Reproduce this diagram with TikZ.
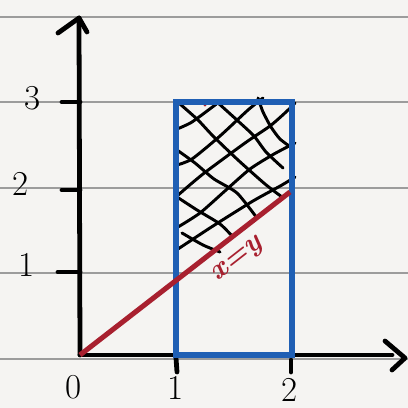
\documentclass[tikz,border=0pt]{standalone}
\usepackage{amsmath}
\usepackage{xcolor}
\usepackage{tikz}

\definecolor{paper}{HTML}{F5F4F2}
\definecolor{rule}{HTML}{9C9C9C}
\definecolor{boxblue}{HTML}{1F5FB4}
\definecolor{diagred}{HTML}{A8202F}

\begin{document}
\begin{tikzpicture}[x=0.025cm, y=-0.025cm,
                    gridline/.style={rule, line width=1pt},
                    axis/.style={black, line width=3.4pt, line cap=round, line join=round},
                    hatch/.style={black, line width=2.1pt, line cap=round},
                    region/.style={boxblue, line width=3.6pt},
                    diag/.style={diagred, line width=3.6pt},
                    num/.style={font=\Huge, inner sep=0pt}]
  % paper and ruled lines
  \fill[paper] (0,0) rectangle (408,408);
  \useasboundingbox (0,0) rectangle (408,408);
  \foreach \y in {17,102,188,273,359}
    \draw[gridline] (0,\y) -- (408,\y);

  % axes
  \coordinate (O) at (80,355);
  \coordinate (ytop) at (79,18);
  \coordinate (xend) at (405,358);
  \draw[axis] (O) -- (ytop);
  \draw[axis] (O) -- (392,355);
  \draw[axis] (58,33) -- (ytop) -- (87,32);
  \draw[axis] (385,341) -- (xend) -- (392,370);

  % ticks
  \draw[axis] (62,102) -- (80,102);
  \draw[axis] (62,190) -- (80,190);
  \draw[axis] (58,272) -- (80,272);
  \draw[axis] (176,358) -- (177,372);
  \draw[axis] (291,360) -- (291,372);

  % cross hatching
  \draw[hatch] plot[smooth, tension=0.4] coordinates {(177,129) (192,122) (219,102)};
  \draw[hatch] plot[smooth, tension=0.4] coordinates {(177,165) (192,159) (220,136) (248,110) (263,98)};
  \draw[hatch] plot[smooth, tension=0.4] coordinates {(177,196) (203,174) (245,143) (270,126) (286,112) (295,103)};
  \draw[hatch] plot[smooth, tension=0.4] coordinates {(178,227) (200,213) (226,190) (250,169) (274,154) (295,143)};
  \draw[hatch] plot[smooth, tension=0.4] coordinates {(178,249) (213,226) (253,201) (282,185) (295,177)};
  \draw[hatch] plot[smooth, tension=0.4] coordinates {(180,104) (198,120) (213,136) (238,160) (265,184) (282,197)};
  \draw[hatch] plot[smooth, tension=0.4] coordinates {(217,102) (238,121) (254,136) (266,152) (283,168)};
  \draw[hatch] plot[smooth, tension=0.4] coordinates {(258,98) (263,112) (271,127) (280,139) (292,148)};
  \draw[hatch] plot[smooth, tension=0.4] coordinates {(177,150) (195,163) (214,179) (237,193) (257,218)};
  \draw[hatch] plot[smooth, tension=0.4] coordinates {(177,197) (197,210) (220,224) (233,237)};
  \draw[hatch] plot[smooth, tension=0.4] coordinates {(182,233) (203,245) (220,252)};
  \fill[diagred] (205,105) circle (1.6);

  % region and line x=y
  \draw[region] (176,102) rectangle (292,355);
  \coordinate (dend) at (290,192);
  \draw[diag] (O) -- (dend);
  \node[diagred, font=\huge\bfseries\itshape, rotate=38] (dlbl) at (238,261) {x=y};

  % numbers
  \node[num] (y3) at (33,98) {3};
  \node[num] (y2) at (21,184) {2};
  \node[num] (y1) at (27,265) {1};
  \node[num] (x0) at (74,387) {0};
  \node[num] (x1) at (176,388) {1};
  \node[num] (x2) at (290,390) {2};
\end{tikzpicture}
\end{document}
